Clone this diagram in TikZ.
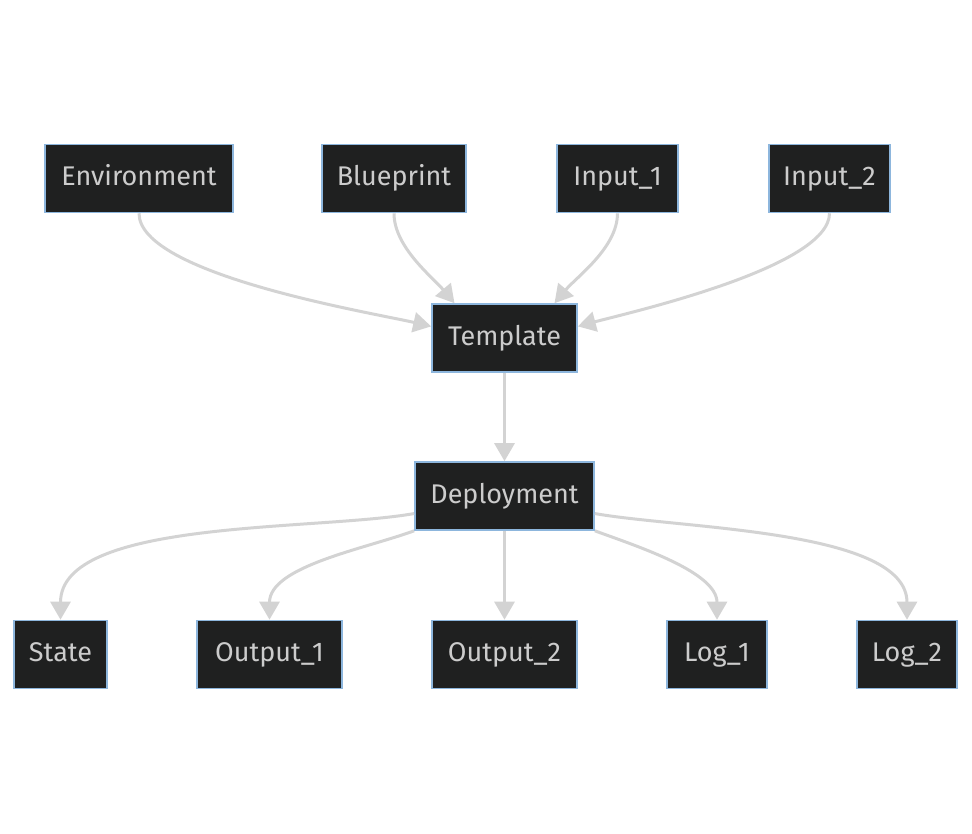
\documentclass[tikz,border=0pt]{standalone}
\usepackage{fontspec}
\setmainfont{Fira Sans}
\usepackage{tikz}
\usetikzlibrary{positioning, calc, arrows.meta}
\definecolor{nodefill}{HTML}{1F2020}
\definecolor{nodeline}{HTML}{8DB6DD}
\definecolor{nodetext}{HTML}{CCCCCC}
\definecolor{edgegray}{HTML}{D3D3D3}

\begin{document}
\begin{tikzpicture}[x=1pt, y=1pt,
        box/.style={rectangle, draw=nodeline, fill=nodefill, line width=1.6pt, text=nodetext, inner sep=0pt, minimum height=68pt, text height=19pt, text depth=5pt, font=\fontsize{27}{30}\selectfont},
        arrow/.style={-{Triangle[length=18pt, width=20pt]}, draw=edgegray, line width=3pt}
    ]
        \useasboundingbox (0,0) rectangle (972,-834);
        % top row
        \node[box, minimum width=188pt] (ENV) at (139,-178.5) {Environment};
        \node[box, minimum width=144pt] (BP) at (394,-178.5) {Blueprint};
        \node[box, minimum width=121pt] (IN1) at (617.5,-178.5) {Input\_1};
        \node[box, minimum width=121pt] (IN2) at (829.5,-178.5) {Input\_2};
        % middle
        \node[box, minimum width=145pt] (TPL) at (504.5,-338) {Template};
        \node[box, minimum width=179pt] (DEP) at (504.5,-496) {Deployment};
        % bottom row
        \node[box, minimum width=93pt] (STATE) at (60.5,-654.5) {State};
        \node[box, minimum width=145pt] (OUT1) at (269.5,-654.5) {Output\_1};
        \node[box, minimum width=145pt] (OUT2) at (504.5,-654.5) {Output\_2};
        \node[box, minimum width=100pt] (LOG1) at (717,-654.5) {Log\_1};
        \node[box, minimum width=100pt] (LOG2) at (907,-654.5) {Log\_2};

        \draw[arrow] (ENV.south) to[out=-90, in=167, looseness=0.5] (TPL.171);
        \draw[arrow] (BP.south) to[out=-90, in=130, looseness=0.8] ([xshift=-50pt]TPL.north);
        \draw[arrow] (IN1.south) to[out=-90, in=50, looseness=0.8] ([xshift=50pt]TPL.north);
        \draw[arrow] (IN2.south) to[out=-90, in=15, looseness=0.5] (TPL.9);
        \draw[arrow] (TPL.south) -- (DEP.north);
        \draw[arrow] (DEP.191) to[out=190, in=90, looseness=0.7] (STATE.north);
        \draw[arrow] (DEP.south west) to[out=200, in=90, looseness=0.8] (OUT1.north);
        \draw[arrow] (DEP.south) -- (OUT2.north);
        \draw[arrow] (DEP.south east) to[out=-20, in=90, looseness=0.8] (LOG1.north);
        \draw[arrow] (DEP.-11) to[out=-10, in=90, looseness=0.7] (LOG2.north);
    \end{tikzpicture}
\end{document}
